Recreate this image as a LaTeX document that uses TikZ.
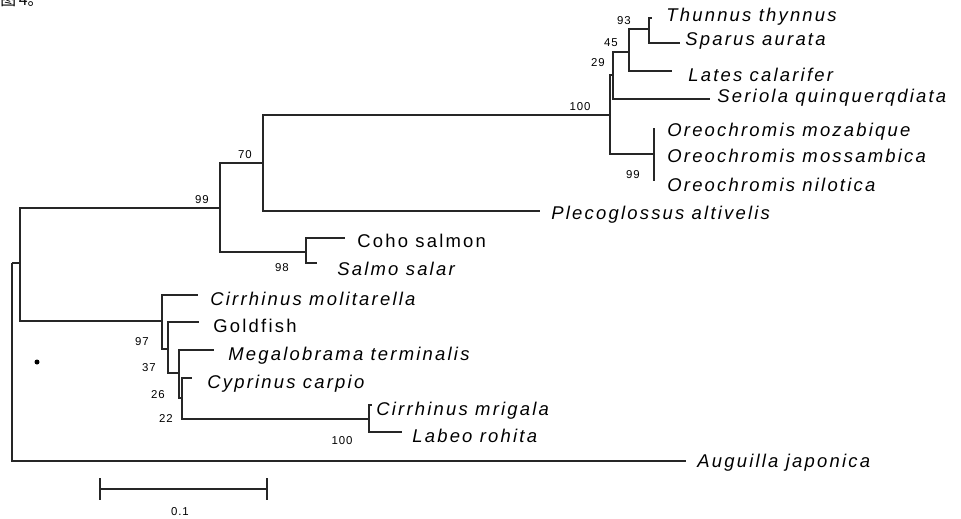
\documentclass[tikz,border=0pt]{standalone}
\usepackage{fontspec}
\setmainfont{Liberation Sans}
\newfontfamily\taxonfont[LetterSpace=12]{Liberation Sans}
\newfontfamily\bootfont[LetterSpace=8]{Liberation Sans}
\newfontfamily\cjkfont{Noto Sans CJK SC}

\begin{document}
\begin{tikzpicture}[
    x=0.2mm, y=-0.2mm,
    branch/.style={draw=black!85, line width=0.6pt},
    taxon/.style={anchor=base west, inner sep=0pt, font=\taxonfont\fontsize{10.5}{12}\selectfont\itshape},
    common/.style={anchor=base west, inner sep=0pt, font=\taxonfont\fontsize{10.5}{12}\selectfont},
    boot/.style={inner sep=0pt, font=\bootfont\fontsize{6.5}{8}\selectfont},
]
\useasboundingbox (0,0) rectangle (961,519);

% Caption, cut off at the top edge
\begin{scope}
  \clip (0,0) rectangle (120,20);
  \node[anchor=base west, inner sep=0pt, font=\cjkfont\fontsize{9}{11}\selectfont] (caption) at (0,6) {图\,4。};
\end{scope}

% Internal nodes (x = depth, y = where the incoming branch enters)
\coordinate (root) at (12,263);
\coordinate (n20)  at (20,263);
\coordinate (n99)  at (220,208);
\coordinate (n70)  at (263,163);
\coordinate (n100) at (610,115);
\coordinate (n29)  at (613,75);
\coordinate (n45)  at (629,52);
\coordinate (n93)  at (649,29);
\coordinate (nore) at (654,154);
\coordinate (nsal) at (306,252);
\coordinate (n97)  at (162,321);
\coordinate (n37)  at (168,349);
\coordinate (n26)  at (179,373);
\coordinate (n22)  at (182,398);
\coordinate (nmri) at (369,419);

% Tips
\coordinate (thunnus-e) at (652,18);
\coordinate (sparus-e)  at (680,43);
\coordinate (lates-e)   at (672,71);
\coordinate (seriola-e) at (710,99);
\coordinate (mozab-e)   at (654,128);
\coordinate (mossa-e)   at (654,155);
\coordinate (nilot-e)   at (654,181);
\coordinate (pleco-e)   at (540,211);
\coordinate (coho-e)    at (345,238);
\coordinate (salmo-e)   at (317,263);
\coordinate (molit-e)   at (198,295);
\coordinate (gold-e)    at (199,322);
\coordinate (megal-e)   at (214,350);
\coordinate (cypri-e)   at (192,378);
\coordinate (mriga-e)   at (372,405);
\coordinate (labeo-e)   at (402,432);
\coordinate (augui-e)   at (686,461);

% Branches
\draw[branch] (root) |- (n20);
\draw[branch] (root) |- (augui-e);
\draw[branch] (n20) |- (n99);
\draw[branch] (n20) |- (n97);
\draw[branch] (n99) |- (n70);
\draw[branch] (n99) |- (nsal);
\draw[branch] (n70) |- (n100);
\draw[branch] (n70) |- (pleco-e);
\draw[branch] (n100) |- (n29);
\draw[branch] (n100) |- (nore);
\draw[branch] (n29) |- (n45);
\draw[branch] (n29) |- (seriola-e);
\draw[branch] (n45) |- (n93);
\draw[branch] (n45) |- (lates-e);
\draw[branch] (n93) |- (thunnus-e);
\draw[branch] (n93) |- (sparus-e);
\draw[branch] (nore) -- (mozab-e);
\draw[branch] (nore) -- (mossa-e);
\draw[branch] (nore) -- (nilot-e);
\draw[branch] (nsal) |- (coho-e);
\draw[branch] (nsal) |- (salmo-e);
\draw[branch] (n97) |- (molit-e);
\draw[branch] (n97) |- (n37);
\draw[branch] (n37) |- (gold-e);
\draw[branch] (n37) |- (n26);
\draw[branch] (n26) |- (megal-e);
\draw[branch] (n26) |- (n22);
\draw[branch] (n22) |- (cypri-e);
\draw[branch] (n22) |- (nmri);
\draw[branch] (nmri) |- (mriga-e);
\draw[branch] (nmri) |- (labeo-e);

% Species
\node[taxon]  (thunnus) at (666,22)  {Thunnus thynnus};
\node[taxon]  (sparus)  at (685,46)  {Sparus aurata};
\node[taxon]  (lates)   at (688,82)  {Lates calarifer};
\node[taxon]  (seriola) at (717,103) {Seriola quinquerqdiata};
\node[taxon]  (mozab)   at (667,137) {Oreochromis mozabique};
\node[taxon]  (mossa)   at (667,163) {Oreochromis mossambica};
\node[taxon]  (nilot)   at (667,192) {Oreochromis nilotica};
\node[taxon]  (pleco)   at (551,220) {Plecoglossus altivelis};
\node[common] (coho)    at (357,248) {Coho salmon};
\node[taxon]  (salmo)   at (337,275) {Salmo salar};
\node[taxon]  (molit)   at (210,305) {Cirrhinus molitarella};
\node[common] (gold)    at (213,332) {Goldfish};
\node[taxon]  (megal)   at (228,360) {Megalobrama terminalis};
\node[taxon]  (cypri)   at (207,388) {Cyprinus carpio};
\node[taxon]  (mriga)   at (376,415) {Cirrhinus mrigala};
\node[taxon]  (labeo)   at (412,442) {Labeo rohita};
\node[taxon]  (augui)   at (697,467) {Auguilla japonica};

% Bootstrap values
\node[boot] (b99a)  at (202,200) {99};
\node[boot] (b70)   at (245,155) {70};
\node[boot] (b100a) at (580,107) {100};
\node[boot] (b29)   at (598,63)  {29};
\node[boot] (b45)   at (611,43)  {45};
\node[boot] (b93)   at (624,21)  {93};
\node[boot] (b99b)  at (633,175) {99};
\node[boot] (b98)   at (282,268) {98};
\node[boot] (b97)   at (142,342) {97};
\node[boot] (b37)   at (149,368) {37};
\node[boot] (b26)   at (158,395) {26};
\node[boot] (b22)   at (166,419) {22};
\node[boot] (b100b) at (342,441) {100};

% Speck
\fill[black] (37,362) circle (2.5);

% Scale bar
\coordinate (sb-l) at (100,489);
\coordinate (sb-r) at (267,489);
\draw[branch] (sb-l) -- (sb-r);
\draw[branch] ([yshift=-6]sb-l) -- ([yshift=6]sb-l);
\draw[branch] ([yshift=-6]sb-r) -- ([yshift=6]sb-r);
\node[boot] (sblabel) at (180,512) {0.1};
\end{tikzpicture}
\end{document}
